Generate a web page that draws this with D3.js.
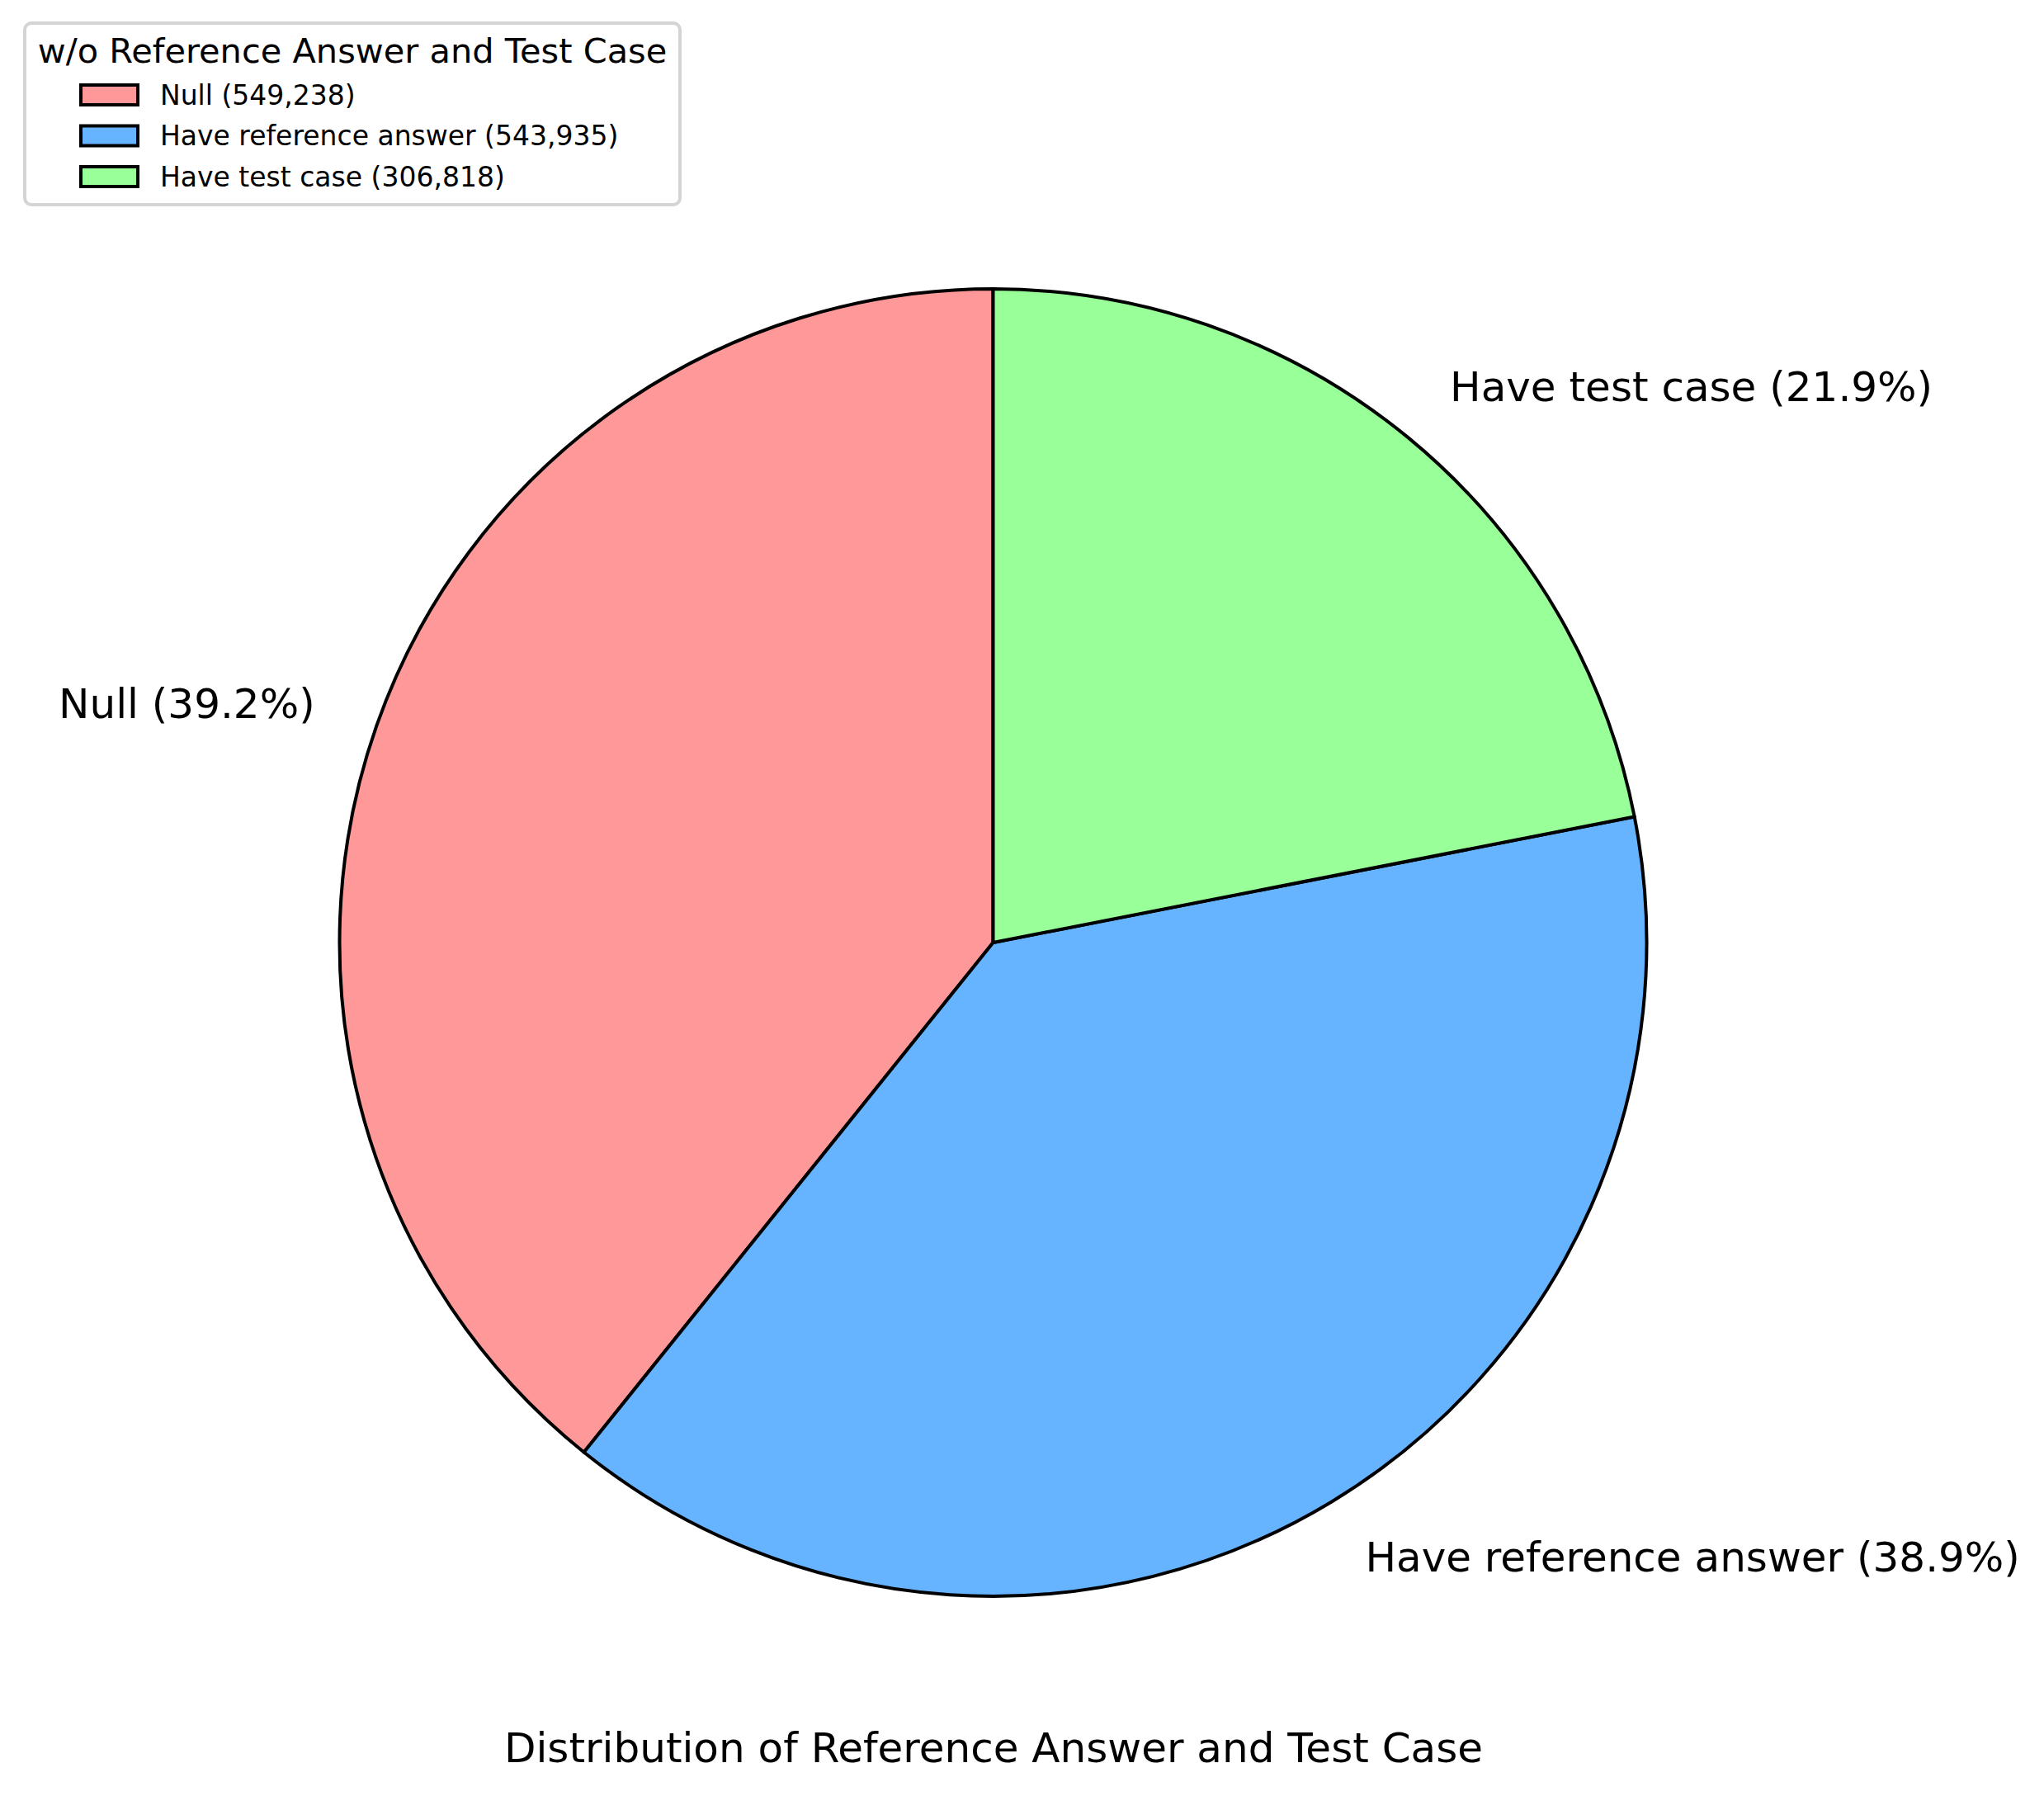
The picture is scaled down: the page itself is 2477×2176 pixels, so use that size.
<!DOCTYPE html>
<html>
<head>
<meta charset="utf-8">
<script src="https://cdn.jsdelivr.net/npm/d3@7"></script>
<style>
  body { margin: 0; background: #fff; }
  text { font-family: "DejaVu Sans", sans-serif; }
</style>
</head>
<body>
<svg id="chart" width="2477" height="2176"></svg>
<script>
var svg = d3.select("#chart");

var categories = ["Null", "Have reference answer", "Have test case"];
var counts = [549238, 543935, 306818];
var colors = ["#ff9999", "#66b3ff", "#99ff99"];
var legendTitle = "w/o Reference Answer and Test Case";
var chartTitle = "Distribution of Reference Answer and Test Case";

var cx = 1203.5, cy = 1142, radius = 792;
var total = d3.sum(counts);

var numberWithCommas = (x) => x.toString().replace(/\B(?=(\d{3})+(?!\d))/g, ",");

// matplotlib style: start at top, go counter-clockwise
var pie = d3.pie().sort(null).value(d => d.count);
var slices = pie(categories.map((c, i) => ({ name: c, count: counts[i], color: colors[i] })))
  .map(function (s) {
    return Object.assign({}, s, { startAngle: -s.endAngle, endAngle: -s.startAngle });
  });

var arc = d3.arc().innerRadius(0).outerRadius(radius);
var g = svg.append("g").attr("transform", "translate(" + cx + "," + cy + ")");

g.selectAll("path")
  .data(slices)
  .enter().append("path")
  .attr("d", arc)
  .attr("fill", d => d.data.color)
  .attr("stroke", "#000")
  .attr("stroke-width", 4)
  .attr("stroke-linejoin", "round");

// labels at 1.1 * radius
g.selectAll("text.lbl")
  .data(slices)
  .enter().append("text")
  .attr("class", "lbl")
  .each(function (d) {
    var a = (d.startAngle + d.endAngle) / 2;
    var x = Math.sin(a) * radius * 1.1;
    var y = -Math.cos(a) * radius * 1.1;
    d3.select(this)
      .attr("x", x)
      .attr("y", y)
      .attr("text-anchor", x < 0 ? "end" : "start")
      .attr("dominant-baseline", "central")
      .text(d.data.name + " (" + (d.data.count / total * 100).toFixed(1) + "%)");
  })
  .style("font-size", "50px")
  .attr("fill", "#000");

// legend
var legend = svg.append("g");
legend.append("rect")
  .attr("x", 30).attr("y", 28)
  .attr("width", 794).attr("height", 220)
  .attr("rx", 8)
  .attr("fill", "#fff")
  .attr("stroke", "#d4d4d4")
  .attr("stroke-width", 4);

legend.append("text")
  .attr("x", 427).attr("y", 76)
  .attr("text-anchor", "middle")
  .style("font-size", "41.5px")
  .text(legendTitle);

categories.forEach(function (c, i) {
  var y = 103 + i * 49.5;
  legend.append("rect")
    .attr("x", 98).attr("y", y)
    .attr("width", 69).attr("height", 24)
    .attr("fill", colors[i])
    .attr("stroke", "#000")
    .attr("stroke-width", 4);
  legend.append("text")
    .attr("x", 194).attr("y", y + 12)
    .attr("dominant-baseline", "central")
    .style("font-size", "33px")
    .text(c + " (" + numberWithCommas(counts[i]) + ")");
});

// title below the pie
svg.append("text")
  .attr("x", 1204).attr("y", 2118)
  .attr("text-anchor", "middle")
  .attr("dominant-baseline", "central")
  .style("font-size", "50px")
  .text(chartTitle);
</script>
</body>
</html>
